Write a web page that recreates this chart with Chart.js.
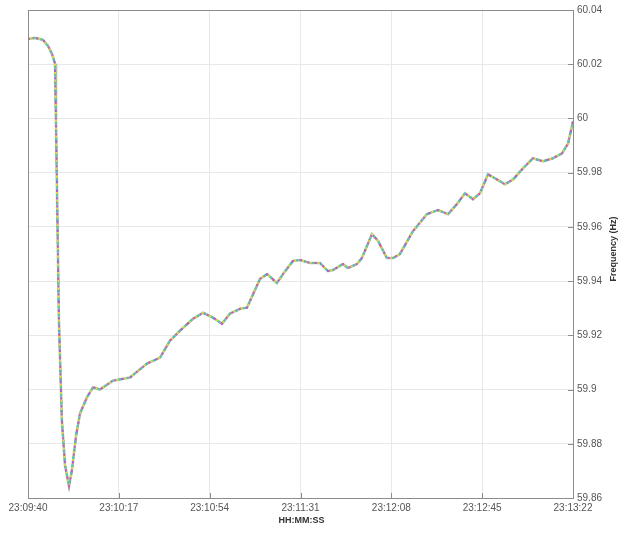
<!DOCTYPE html>
<html>
<head>
<meta charset="utf-8">
<script src="https://cdn.jsdelivr.net/npm/chart.js@4/dist/chart.umd.min.js"></script>
<style>
  html, body { margin: 0; padding: 0; background: #ffffff; }
  #wrap { width: 625px; height: 534px; }
</style>
</head>
<body>
<div id="wrap"><canvas id="c" width="625" height="534"></canvas></div>
<script>
// Seconds after 23:09:40
const seconds = [0, 2.9, 6.1, 8.1, 9.8, 11.0, 11.4, 12.6, 13.8, 15.1, 16.7, 17.9, 19.6, 21.2, 24.0, 26.5, 29.3, 34.6, 41.5, 48.5, 53.8, 57.8, 61.9, 67.2, 71.3, 75.4, 79.0, 82.3, 86.4, 89.2, 94.5, 97.4, 101.4, 103.9, 107.9, 110.8, 114.9, 118.9, 122.2, 124.2, 128.3, 130.3, 134.0, 136.0, 140.1, 142.6, 146.2, 148.7, 151.5, 156.8, 162.5, 167.0, 171.1, 174.7, 178.0, 181.3, 184.1, 187.4, 191.0, 194.3, 197.6, 201.6, 205.7, 209.8, 213.8, 217.5, 220.0, 222.0];
// Frequency (Hz)
const frequency = [60.0293, 60.0297, 60.0290, 60.0268, 60.0238, 60.0202, 59.9989, 59.9254, 59.8886, 59.8720, 59.8644, 59.8703, 59.8831, 59.8912, 59.8971, 59.9008, 59.9000, 59.9033, 59.9044, 59.9096, 59.9118, 59.9180, 59.9217, 59.9261, 59.9283, 59.9265, 59.9243, 59.9280, 59.9298, 59.9302, 59.9408, 59.9426, 59.9393, 59.9426, 59.9474, 59.9478, 59.9467, 59.9467, 59.9437, 59.9441, 59.9463, 59.9448, 59.9463, 59.9485, 59.9573, 59.9548, 59.9485, 59.9485, 59.9500, 59.9584, 59.9647, 59.9662, 59.9647, 59.9684, 59.9724, 59.9702, 59.9724, 59.9794, 59.9775, 59.9757, 59.9775, 59.9816, 59.9853, 59.9842, 59.9853, 59.9871, 59.9908, 59.9989];
const xTickLabels = ['23:09:40', '23:10:17', '23:10:54', '23:11:31', '23:12:08', '23:12:45', '23:13:22'];
const yTickValues = [59.86, 59.88, 59.9, 59.92, 59.94, 59.96, 59.98, 60, 60.02, 60.04];
const xTitle = 'HH:MM:SS';
const yTitle = 'Frequency (Hz)';
// overlaid PMU traces (first drawn on top)
const traceColors = ['#d452c8', '#4fc6d8', '#e2d84a', '#6a74d4', '#e05a5a', '#62c062', '#a9c79a'];

const points = seconds.map((s, i) => ({ x: s, y: frequency[i] }));

const dashes = [[2, 6], [2, 6], [2, 6], [2, 8], [2, 9], [3, 5], []];
const offsets = [0, 2.7, 5.3, 1.3, 6.5, 4.0, 0];
const widths = [1.8, 1.8, 1.8, 1.8, 1.6, 1.8, 2.6];
const datasets = traceColors.map((col, i) => ({
  data: points,
  borderColor: col,
  borderWidth: widths[i],
  borderDash: dashes[i],
  borderDashOffset: offsets[i],
  borderCapStyle: 'butt',
  pointRadius: 0,
  tension: 0,
  fill: false
}));

const tickFont = { family: 'Liberation Sans, Arial, sans-serif', size: 10 };

const framePlugin = {
  id: 'frame',
  afterDraw(chart) {
    const { ctx, chartArea: a } = chart;
    ctx.save();
    ctx.strokeStyle = '#8c8c8c';
    ctx.lineWidth = 1;
    ctx.strokeRect(a.left + 0.5, a.top + 0.5, a.right - a.left, a.bottom - a.top);
    // inward tick marks
    const xs = chart.scales.x, ys = chart.scales.y;
    ctx.beginPath();
    xs.ticks.forEach(t => {
      const px = Math.round(xs.getPixelForValue(t.value)) + 0.5;
      ctx.moveTo(px, a.bottom); ctx.lineTo(px, a.bottom - 5);
    });
    ys.ticks.forEach(t => {
      const py = Math.round(ys.getPixelForValue(t.value)) + 0.5;
      ctx.moveTo(a.right, py); ctx.lineTo(a.right - 5, py);
    });
    ctx.stroke();
    // axis titles
    ctx.fillStyle = '#333333';
    ctx.font = 'bold 9px Liberation Sans, Arial, sans-serif';
    ctx.textAlign = 'center';
    ctx.textBaseline = 'middle';
    ctx.fillText(xTitle, (a.left + a.right) / 2 + 1, 521);
    ctx.translate(614, (a.top + a.bottom) / 2 - 5);
    ctx.rotate(-Math.PI / 2);
    ctx.fillText(yTitle, 0, 0);
    ctx.restore();
  }
};

new Chart(document.getElementById('c'), {
  type: 'line',
  data: { datasets },
  options: {
    responsive: false,
    animation: false,
    layout: { padding: { left: 28, top: 8, right: 0, bottom: 0 } },
    plugins: { legend: { display: false }, tooltip: { enabled: false } },
    scales: {
      x: {
        type: 'linear',
        min: 0,
        max: 222,
        afterBuildTicks(scale) {
          scale.ticks = xTickLabels.map((_, i) => ({ value: i * 37 }));
        },
        afterFit(scale) { scale.height = 36; },
        grid: { color: '#e8e8e8', drawTicks: false },
        border: { display: false },
        ticks: {
          color: '#555555',
          font: tickFont,
          padding: 4,
          maxRotation: 0,
          autoSkip: false,
          callback: (v, i) => xTickLabels[i]
        }
      },
      y: {
        type: 'linear',
        position: 'right',
        min: 59.86,
        max: 60.04,
        afterBuildTicks(scale) {
          scale.ticks = yTickValues.map(v => ({ value: v }));
        },
        afterFit(scale) { scale.width = 52; },
        grid: { color: '#e8e8e8', drawTicks: false },
        border: { display: false },
        ticks: {
          color: '#555555',
          font: tickFont,
          padding: 4,
          autoSkip: false,
          callback: (v) => String(parseFloat(Number(v).toFixed(2)))
        }
      }
    }
  },
  plugins: [framePlugin]
});
</script>
</body>
</html>
